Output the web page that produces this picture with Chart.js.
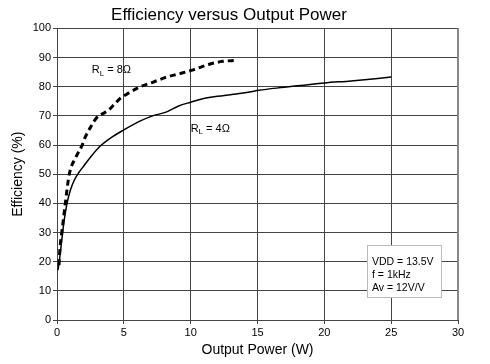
<!DOCTYPE html>
<html><head><meta charset="utf-8">
<script src="https://cdn.jsdelivr.net/npm/chart.js@4/dist/chart.umd.min.js"></script>
<style>html,body{margin:0;padding:0;background:#fff}#wrap{width:490px;height:364px}</style>
</head><body><div id="wrap"><canvas id="c" width="490" height="364"></canvas></div>
<script>
const xTicks = [0,5,10,15,20,25,30];
const yTicks = [0,10,20,30,40,50,60,70,80,90,100];
const p4x = [0.07,0.15,0.35,0.5,0.75,1.0,1.3,1.62,2.0,2.5,3.2,4.0,5.0,6.2,7.2,8.1,9.1,10.0,10.9,12.0,13.2,14.4,15.1,17.0,20.0,22.0,25.0];
const p4y = [17.1,19.5,27.0,33.0,40.0,44.5,48.0,50.5,52.8,55.8,59.5,62.4,65.2,68.2,70.1,71.2,73.4,74.7,75.9,76.7,77.4,78.2,78.8,79.8,81.3,82.0,83.3];
const p8x = [0.15,0.22,0.35,0.47,0.62,0.92,1.42,1.85,2.1,2.6,2.97,3.6,3.84,4.34,4.71,5.09,6.2,7.2,8.2,9.2,10.2,11.4,12.4,13.4];
const p8y = [18.8,24.5,29.7,34.2,40.0,50.0,55.9,59.6,62.6,66.8,69.4,71.2,71.9,74.2,75.9,77.1,79.9,81.6,83.3,84.5,85.8,87.7,88.7,89.0];
const curveLabels = [{x:2.6,y:85.6,t:'R',s:'L',r:' = 8\u03A9'},{x:10.0,y:65.4,t:'R',s:'L',r:' = 4\u03A9'}];
const noteLines = ['VDD = 13.5V','f = 1kHz','Av = 12V/V'];

const pts = (xs,ys)=>xs.map((x,i)=>({x,y:ys[i]}));
const FONT = 'Liberation Sans, Arial, sans-serif';

const annot = {
  id:'annot',
  afterDatasetsDraw(chart){
    const {ctx, scales:{x,y}} = chart;
    ctx.save();
    ctx.fillStyle='#000';
    ctx.textBaseline='middle';
    curveLabels.forEach(l=>{
      let px=x.getPixelForValue(l.x), py=y.getPixelForValue(l.y);
      ctx.font='11px '+FONT; ctx.fillText(l.t,px,py);
      let w=ctx.measureText(l.t).width;
      ctx.font='8px '+FONT; ctx.fillText(l.s,px+w,py+3);
      let w2=ctx.measureText(l.s).width;
      ctx.font='11px '+FONT; ctx.fillText(l.r,px+w+w2,py);
    });
    const bx=367, by=245, bw=74, bh=52;
    ctx.fillStyle='#fff'; ctx.fillRect(bx,by,bw,bh);
    ctx.strokeStyle='#bbb'; ctx.lineWidth=1; ctx.strokeRect(bx+0.5,by+0.5,bw,bh);
    ctx.fillStyle='#000'; ctx.font='10.5px '+FONT; ctx.textBaseline='middle';
    noteLines.forEach((t,i)=>ctx.fillText(t,bx+5,by+17+i*13));
    ctx.restore();
  }
};

new Chart(document.getElementById('c'),{
  type:'line',
  data:{datasets:[
    {data:pts(p4x,p4y),borderColor:'#000',borderWidth:1.5,pointRadius:0,cubicInterpolationMode:'monotone',fill:false},
    {data:pts(p8x,p8y),borderColor:'#000',borderWidth:3,borderDash:[6,4],pointRadius:0,cubicInterpolationMode:'monotone',fill:false}
  ]},
  options:{
    responsive:false,animation:false,
    layout:{padding:{left:0,right:32,top:0,bottom:0}},
    plugins:{legend:{display:false},tooltip:{enabled:false},
      title:{display:true,text:'Efficiency versus Output Power',color:'#000',font:{family:FONT,size:17,weight:'normal'},padding:{top:5,bottom:3}}},
    scales:{
      x:{type:'linear',min:0,max:30,
        afterBuildTicks(s){s.ticks=xTicks.map(v=>({value:v}));},
        afterFit(s){s.height=44;},
        grid:{color:'#444',lineWidth:1,drawTicks:true,tickLength:4,tickColor:'#444'},
        border:{color:'#444'},
        ticks:{color:'#000',font:{family:FONT,size:11},padding:2,maxRotation:0},
        title:{display:true,text:'Output Power (W)',color:'#000',font:{family:FONT,size:14},padding:{top:0,bottom:5}}},
      y:{min:0,max:100,
        afterBuildTicks(s){s.ticks=yTicks.map(v=>({value:v}));},
        afterFit(s){s.width=57;},
        grid:{color:'#444',lineWidth:1,tickLength:4,tickColor:'#444'},
        border:{color:'#444'},
        ticks:{color:'#000',font:{family:FONT,size:11},padding:2},
        title:{display:true,text:'Efficiency (%)',color:'#000',font:{family:FONT,size:14},padding:{top:10,bottom:4}}}
    }
  },
  plugins:[annot,{id:'rb',afterDraw(ch){const a=ch.chartArea,c=ch.ctx;c.save();c.strokeStyle='#888';c.lineWidth=2;c.beginPath();c.moveTo(a.right,a.top);c.lineTo(a.right,a.bottom);c.stroke();c.restore();}}]
});
</script></body></html>
